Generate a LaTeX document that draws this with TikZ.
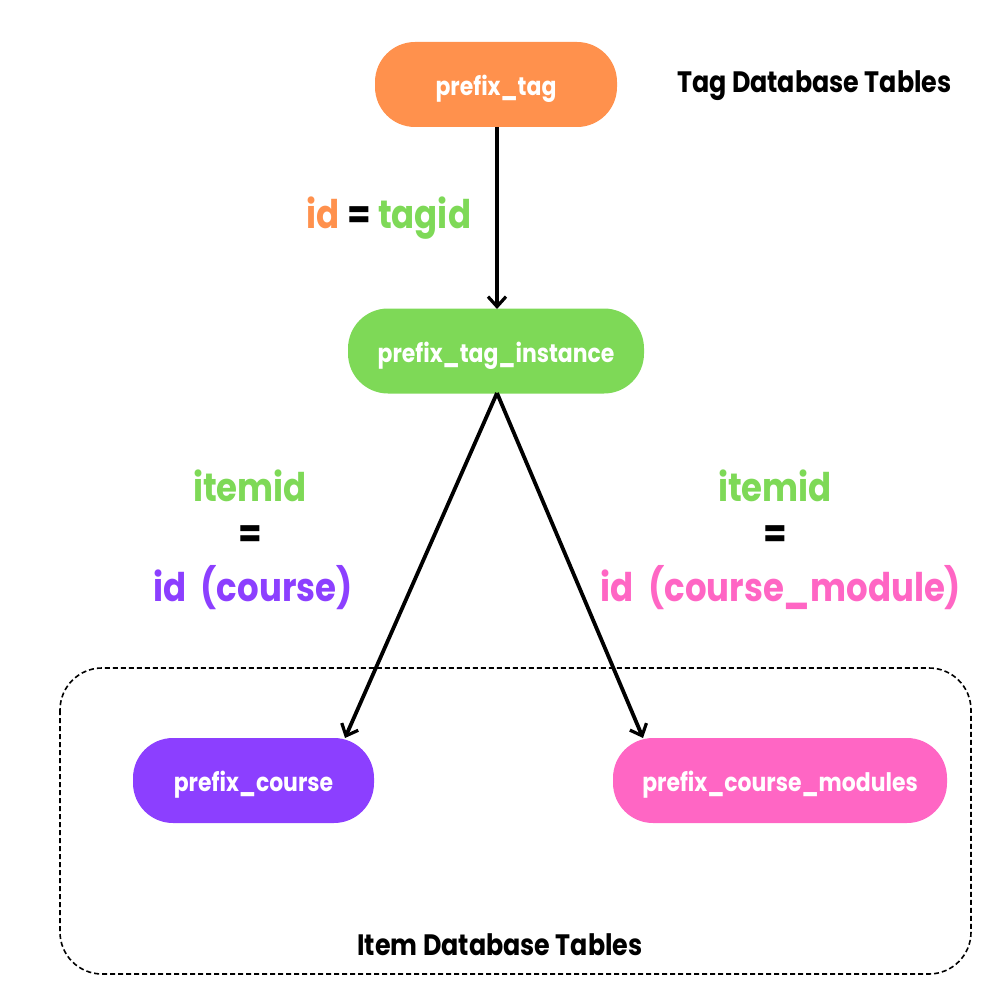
\documentclass[tikz,border=0pt]{standalone}
\usepackage{fontspec}
\setmainfont{Poppins}[FakeStretch=0.86]
\usetikzlibrary{arrows.meta}
\definecolor{corange}{HTML}{FF914D}
\definecolor{cgreen}{HTML}{7ED957}
\definecolor{cpurple}{HTML}{8C3FFF}
\definecolor{cpink}{HTML}{FF66C4}
\tikzset{
  tbl/.style={rounded corners=40pt, minimum height=85pt, text=white, font=\fontsize{25.5}{30}\selectfont\bfseries, inner sep=0pt, text depth=0pt, text height=22pt},
  conn/.style={line width=3.8pt, -{Straight Barb[length=10pt,width=18pt,line width=3.2pt]}},
  lbl/.style={font=\fontsize{39.5}{46}\selectfont\bfseries, inner sep=0pt},
  ttl/.style={font=\fontsize{29.5}{34}\selectfont\bfseries, inner sep=0pt}
}
\begin{document}
\begin{tikzpicture}[x=1pt,y=-1pt]
\useasboundingbox (0,0) rectangle (1000,1000);
\draw[line width=1.6pt, dash pattern=on 5pt off 3pt, rounded corners=42pt] (60,668) rectangle (971,974);
\node[tbl, fill=corange, minimum width=242pt] (tag) at (496,84.5) {prefix\_tag};
\node[tbl, fill=cgreen, minimum width=296pt] (inst) at (496,351) {prefix\_tag\_instance};
\node[tbl, fill=cpurple, minimum width=241pt] (course) at (253.5,780.5) {prefix\_course};
\node[tbl, fill=cpink, minimum width=334pt] (mods) at (780,780.5) {prefix\_course\_modules};
\node[ttl, anchor=west] (tagtitle) at (677,86) {Tag Database Tables};
\node[ttl] (itemtitle) at (500,945) {Item Database Tables};
\draw[conn] (497,127) -- (497,309);
\draw[conn] (497,393) -- (345,738);
\draw[conn] (497,393) -- (643,738);
\node[lbl] (lab1) at (389,218) {\textcolor{corange}{id} = \textcolor{cgreen}{tagid}};
\node[lbl, text=cgreen] (l2a) at (250,486) {itemid};
\node[lbl] (l2b) at (250,537) {=};
\node[lbl, text=cpurple] (l2c) at (253,588) {id\ \ (course)};
\node[lbl, text=cgreen] (l3a) at (775,486) {itemid};
\node[lbl] (l3b) at (775,537) {=};
\node[lbl, text=cpink] (l3c) at (781,588) {id\ \ (course\_module)};
\end{tikzpicture}
\end{document}
